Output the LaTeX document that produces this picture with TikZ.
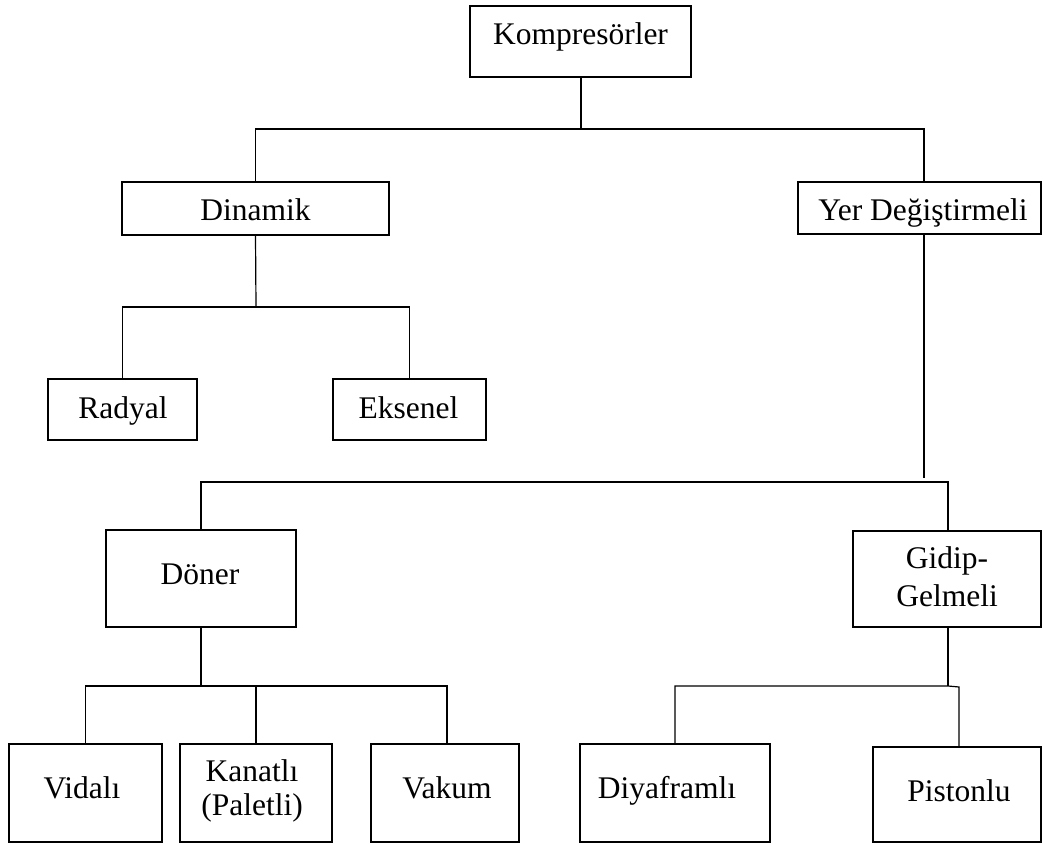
\documentclass[tikz,border=0pt]{standalone}
\usepackage{fontspec}
\setmainfont{Liberation Serif}
\begin{document}
\begin{tikzpicture}[x=1pt,y=-1pt,
  box/.style={draw, line width=1.2pt, inner sep=0pt, fill=none},
  lbl/.style={inner sep=0pt, anchor=base, align=center,
              font=\fontsize{31.5}{36}\selectfont},
  link/.style={line width=1.2pt}]
\useasboundingbox (0,0) rectangle (1043,843);

% boxes (centre, width, height)
\node[box, minimum width=221pt, minimum height=71pt] (k)  at (580.5,41.5) {};
\node[box, minimum width=267pt, minimum height=53pt] (d)  at (255.5,208.5) {};
\node[box, minimum width=243pt, minimum height=52pt] (y)  at (919.5,208) {};
\node[box, minimum width=149pt, minimum height=61pt] (r)  at (122.5,409.5) {};
\node[box, minimum width=153pt, minimum height=61pt] (e)  at (409.5,409.5) {};
\node[box, minimum width=190pt, minimum height=97pt] (dn) at (201,578.5) {};
\node[box, minimum width=188pt, minimum height=96pt] (g)  at (947,579) {};
\node[box, minimum width=153pt, minimum height=98pt] (v)  at (85.5,793) {};
\node[box, minimum width=152pt, minimum height=98pt] (ka) at (256,793) {};
\node[box, minimum width=148pt, minimum height=98pt] (va) at (445,793) {};
\node[box, minimum width=190pt, minimum height=98pt] (di) at (675,793) {};
\node[box, minimum width=168pt, minimum height=95pt] (p)  at (957,794.5) {};

% labels (the base anchor of a two-line label is its last line)
\node[lbl] (kt)  at (580.5,45)  {Kompresörler};
\node[lbl] (dt)  at (255.5,220) {Dinamik};
\node[lbl] (yt)  at (923,220)   {Yer Değiştirmeli};
\node[lbl] (rt)  at (123,418)   {Radyal};
\node[lbl] (et)  at (408.5,418) {Eksenel};
\node[lbl] (dnt) at (200,584)   {Döner};
\node[lbl, font=\fontsize{31.5}{38}\selectfont] (gt) at (947,606) {Gidip-\\Gelmeli};
\node[lbl, font=\fontsize{31.5}{34}\selectfont] (kat) at (252,815) {Kanatlı\\(Paletli)};
\node[lbl] (vt)  at (82,798)    {Vidalı};
\node[lbl] (vat) at (447,798)   {Vakum};
\node[lbl] (dit) at (667,798)   {Diyaframlı};
\node[lbl] (pt)  at (959,801)   {Pistonlu};

% junction points
\coordinate (j1)  at (581,129);
\coordinate (ytop) at (924,182);
\coordinate (ybot) at (924,234);
\coordinate (yend) at (924,478);
\coordinate (j2)  at (256,307);
\coordinate (h2)  at (201,482);
\coordinate (gtop) at (948,531);
\coordinate (gbot) at (948,627);
\coordinate (j3)  at (201,686);
\coordinate (vat0) at (447,744);
\coordinate (j4)  at (948,686);
\coordinate (j5)  at (959,687);
\coordinate (ptop) at (959,747);

% connectors
\draw[link] (k.south -| j1) -- (j1);
\draw[link] (d.north) |- (j1) -| (ytop);
\draw[link] (d.south) -- (j2);
\draw[link] (r.north) |- (j2) -| (e.north);
\draw[link] (ybot) -- (yend);
\draw[link] (dn.north) -- (h2) -| (gtop);
\draw[link] (dn.south) -- (j3);
\draw[link] (v.north) |- (j3) -| (vat0);
\draw[link] (ka.north) -- (ka.north |- j3);
\draw[link] (gbot) -- (j4);
\draw[link] (di.north) |- (j4) -- (j5) -- (ptop);
\end{tikzpicture}
\end{document}
